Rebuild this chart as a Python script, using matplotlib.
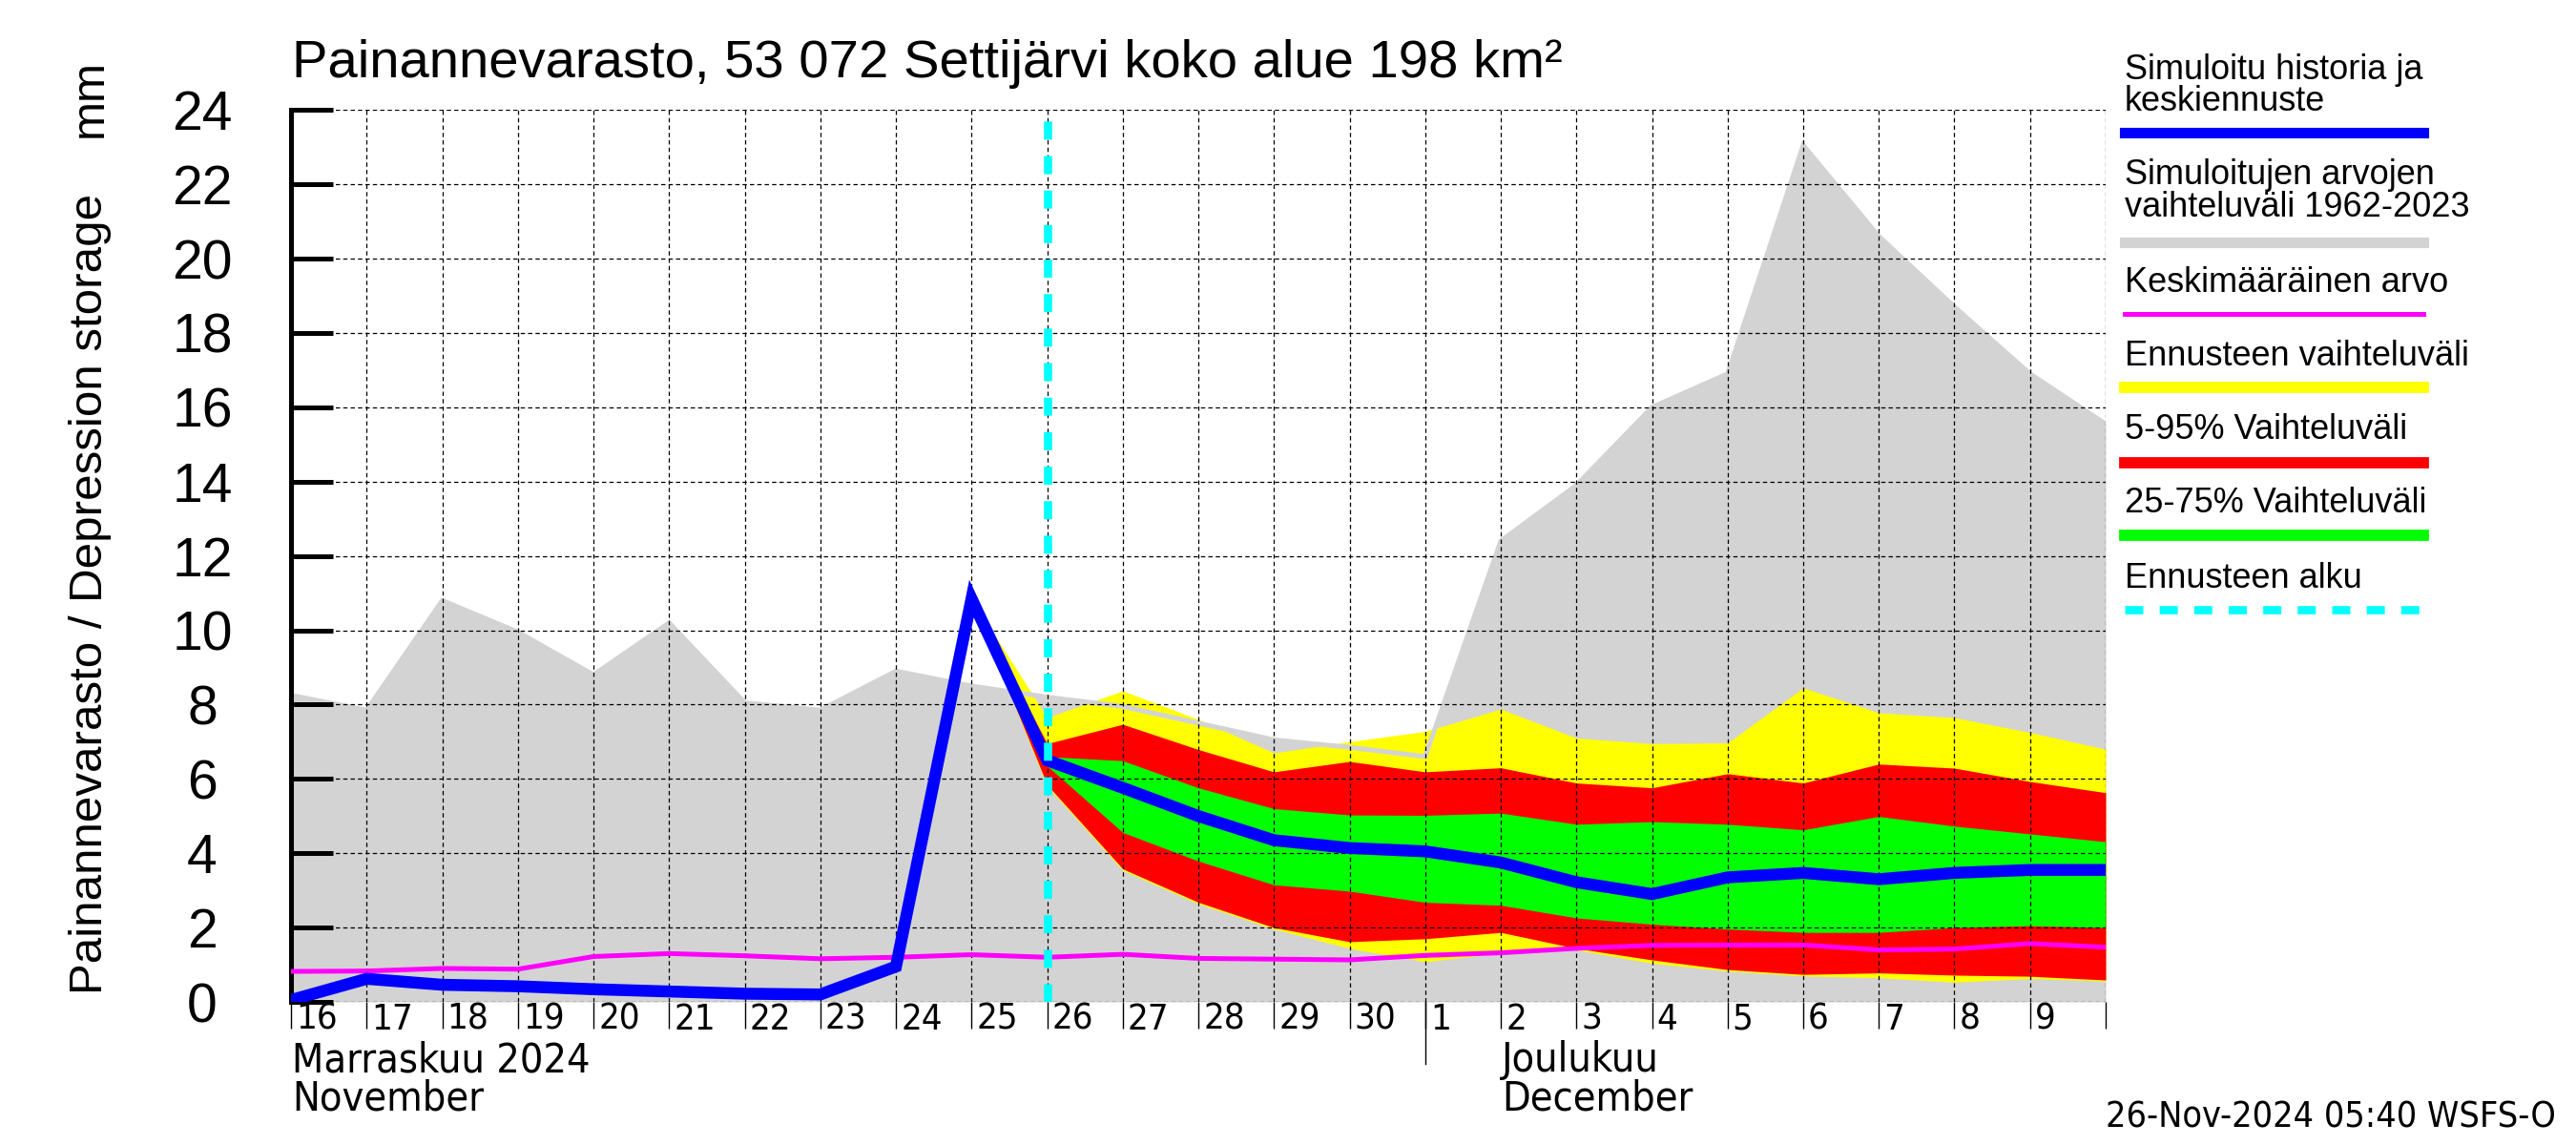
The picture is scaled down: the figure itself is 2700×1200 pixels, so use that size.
import matplotlib
matplotlib.use("Agg")
import matplotlib.pyplot as plt
from matplotlib.lines import Line2D
from matplotlib.transforms import ScaledTranslation, blended_transform_factory
from matplotlib.font_manager import FontProperties

# ---------------- data ----------------
day_labels = ['16', '17', '18', '19', '20', '21', '22', '23', '24', '25', '26', '27', '28', '29', '30',
              '1', '2', '3', '4', '5', '6', '7', '8', '9']
# all daily series from Nov 16 to Dec 10 (25 points)
hist_max = [8.25, 7.85, 10.8, 9.95, 8.8, 10.2, 8.05, 7.85, 8.9, 8.5, 8.2, 7.95, 7.5, 7.05, 6.85,
            6.6, 12.4, 13.9, 16.0, 16.9, 23.05, 20.6, 18.7, 16.9, 15.55]
mean_val = [0.82, 0.83, 0.9, 0.88, 1.22, 1.3, 1.24, 1.16, 1.2, 1.27, 1.2, 1.28, 1.17, 1.15, 1.13,
            1.25, 1.32, 1.44, 1.52, 1.53, 1.53, 1.4, 1.42, 1.57, 1.47]
median_val = [0.05, 0.62, 0.46, 0.42, 0.34, 0.28, 0.22, 0.2, 0.95, 10.85, 6.5, 5.76, 5.0, 4.35, 4.14,
              4.05, 3.75, 3.22, 2.9, 3.35, 3.47, 3.3, 3.47, 3.55, 3.55]
# forecast bands from Nov 25 to Dec 10 (16 points)
fc_start = 9
yellow_hi = [10.85, 7.65, 8.37, 7.6, 6.7, 7.0, 7.28, 7.88, 7.1, 6.95, 6.97, 8.45, 7.78, 7.65, 7.25, 6.8]
red_hi = [10.85, 6.95, 7.47, 6.79, 6.19, 6.47, 6.19, 6.3, 5.89, 5.76, 6.14, 5.89, 6.4, 6.29, 5.93, 5.63]
green_hi = [10.85, 6.6, 6.49, 5.76, 5.2, 5.03, 5.02, 5.08, 4.78, 4.85, 4.78, 4.63, 4.99, 4.73, 4.52, 4.31]
green_lo = [10.85, 6.35, 4.56, 3.79, 3.15, 2.98, 2.68, 2.6, 2.26, 2.09, 1.96, 1.87, 1.87, 2.0, 2.05, 2.0]
red_lo = [10.85, 5.84, 3.58, 2.68, 2.0, 1.62, 1.7, 1.87, 1.44, 1.13, 0.87, 0.74, 0.78, 0.72, 0.69, 0.59]
yellow_lo = [10.85, 5.8, 3.54, 2.64, 1.96, 1.44, 1.08, 1.32, 1.4, 1.04, 0.83, 0.7, 0.65, 0.53, 0.63, 0.56]
forecast_day = 10          # Nov 26
y_ticks = list(range(0, 25, 2))

title = 'Painannevarasto, 53 072 Settijärvi koko alue 198 km²'
legend_items = [
    ('Simuloitu historia ja\nkeskiennuste', 'blue'),
    ('Simuloitujen arvojen\nvaihteluväli 1962-2023', 'gray'),
    ('Keskimääräinen arvo', 'magenta'),
    ('Ennusteen vaihteluväli', 'yellow'),
    ('5-95% Vaihteluväli', 'red'),
    ('25-75% Vaihteluväli', 'green'),
    ('Ennusteen alku', 'cyan'),
]

# ---------------- style ----------------
SANS = ['Liberation Sans', 'DejaVu Sans']
C_GRAY = '#d3d3d3'
C_BLUE = '#0000ff'
C_YEL = '#ffff00'
C_RED = '#ff0000'
C_GRN = '#00ff00'
C_MAG = '#ff00ff'
C_CYAN = '#00ffff'

plt.rcParams['font.family'] = SANS


def narrow(size):
    return FontProperties(family='DejaVu Sans', stretch='condensed', size=size)


fig = plt.figure(figsize=(27, 12), dpi=100)
ax = fig.add_axes([0.1130, 0.125, 0.7044, 0.779])

x_all = list(range(len(hist_max)))
x_fc = list(range(fc_start, fc_start + len(yellow_hi)))

ax.fill_between(x_all, 0, hist_max, color=C_GRAY, lw=0, zorder=1)
ax.fill_between(x_fc, yellow_lo, yellow_hi, color=C_YEL, lw=0, zorder=1.2)
ax.fill_between(x_fc, red_lo, red_hi, color=C_RED, lw=0, zorder=1.3)
ax.fill_between(x_fc, green_lo, green_hi, color=C_GRN, lw=0, zorder=1.4)
ax.plot(x_all, hist_max, color=C_GRAY, lw=3.6, zorder=1.6, solid_joinstyle='miter')

ax.plot(x_all, mean_val, color=C_MAG, lw=3.6, zorder=3)
ax.plot(x_all, median_val, color=C_BLUE, lw=9, zorder=4, solid_joinstyle='miter')
ax.axvline(forecast_day, color=C_CYAN, lw=6.2, dashes=(2.2, 2.0), zorder=5)

ax.set_xlim(0, 24)
ax.set_ylim(0, 24)

# grid
ax.set_axisbelow(False)
ax.set_xticks(range(0, 25))
ax.set_xticklabels(day_labels + [''])
ax.set_yticks(y_ticks)
ax.set_yticklabels([str(v) for v in y_ticks])
ax.grid(True, color='black', lw=0.9, linestyle=(0, (3.6, 2.6)))

for s in ['top', 'right', 'bottom']:
    ax.spines[s].set_visible(False)
ax.spines['left'].set_linewidth(3.6)

ax.tick_params(axis='y', direction='in', length=32, width=3.6, pad=67, labelsize=41)
for lab in ax.get_yticklabels():
    lab.set_horizontalalignment('center')
ax.tick_params(axis='x', direction='out', length=20, width=1.0, pad=-19.5)
off = ScaledTranslation(0.05, 0, fig.dpi_scale_trans)
for lab in ax.get_xticklabels():
    lab.set_horizontalalignment('left')
    lab.set_fontproperties(narrow(27.5))
    lab.set_transform(lab.get_transform() + off)

# month boundary line
trans = blended_transform_factory(ax.transData, ax.transAxes)
ax.add_line(Line2D([15, 15], [0, -0.07], transform=trans, color='black', lw=1.0, clip_on=False))

# month labels
fig.text(0.1135, 0.074, 'Marraskuu 2024', fontproperties=narrow(31), ha='left', va='center')
fig.text(0.1135, 0.040, 'November', fontproperties=narrow(31), ha='left', va='center')
fig.text(0.583, 0.074, 'Joulukuu', fontproperties=narrow(31), ha='left', va='center')
fig.text(0.583, 0.040, 'December', fontproperties=narrow(31), ha='left', va='center')
fig.text(0.992, 0.024, '26-Nov-2024 05:40 WSFS-O', fontproperties=narrow(27), ha='right', va='center')

# title and axis label
fig.text(0.1135, 0.944, title, fontsize=40.5, ha='left', va='center')
fig.text(0.035, 0.481, 'Painannevarasto / Depression storage', rotation=90, fontsize=35.5,
         ha='center', va='center')
fig.text(0.035, 0.914, 'mm', rotation=90, fontsize=35.5, ha='center', va='center')

# legend (drawn manually)
lx0, lx1 = 0.8248, 0.9407
leg_text_y = [(0.9386, 0.9114), (0.8471, 0.8186), (0.7529,), (0.6886,), (0.6243,), (0.56,), (0.4943,)]
leg_line_y = [0.8843, 0.7886, 0.7257, 0.6614, 0.5957, 0.5329, 0.4671]
styles = {
    'blue': dict(color=C_BLUE, lw=8),
    'gray': dict(color=C_GRAY, lw=8),
    'magenta': dict(color=C_MAG, lw=3.6),
    'yellow': dict(color=C_YEL, lw=8.5),
    'red': dict(color=C_RED, lw=8.5),
    'green': dict(color=C_GRN, lw=8.5),
    'cyan': dict(color=C_CYAN, lw=6.2, dashes=(2.2, 2.0)),
}
for (label, key), ty, ly in zip(legend_items, leg_text_y, leg_line_y):
    for line_txt, yy in zip(label.split('\n'), ty):
        fig.text(lx0, yy, line_txt, fontsize=26, ha='left', va='center')
    fig.add_artist(Line2D([lx0, lx1], [ly, ly], transform=fig.transFigure, **styles[key]))

fig.savefig('out.png', dpi=100)
